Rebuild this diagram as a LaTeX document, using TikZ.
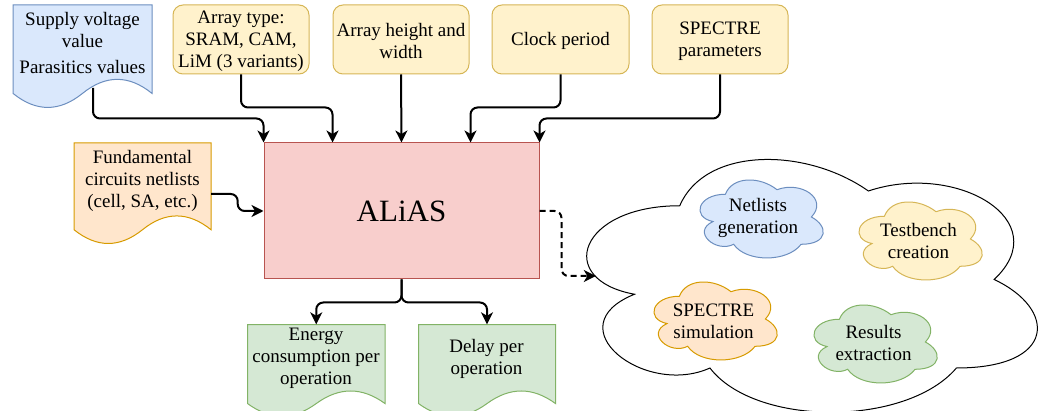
\documentclass[tikz,border=0pt]{standalone}
\usepackage{fontspec}
\setmainfont{Liberation Serif}
\usetikzlibrary{arrows.meta,calc}
\definecolor{bluef}{HTML}{DAE8FC}\definecolor{bluel}{HTML}{6C8EBF}
\definecolor{yelf}{HTML}{FFF2CC}\definecolor{yell}{HTML}{D6B656}
\definecolor{oraf}{HTML}{FFE6CC}\definecolor{oral}{HTML}{D79B00}
\definecolor{redf}{HTML}{F8CECC}\definecolor{redl}{HTML}{B85450}
\definecolor{grnf}{HTML}{D5E8D4}\definecolor{grnl}{HTML}{82B366}
\newcommand\docpath[5]{\begin{scope}[shift={(#1,#2)},x=#3pt,y=-#4pt]
\draw[#5] (0,0) -- (1,0) -- (1,0.85) .. controls (0.8333,0.67) and (0.6667,0.67) .. (0.5,0.85) .. controls (0.3333,1.03) and (0.1667,1.03) .. (0,0.85) -- cycle;\end{scope}}
\newcommand\cloudpath[5]{\begin{scope}[shift={(#1,#2)},x=#3pt,y=-#4pt]
\draw[#5] (0.25,0.25) .. controls (0.05,0.25) and (0,0.5) .. (0.16,0.55) .. controls (0,0.66) and (0.18,0.9) .. (0.31,0.8) .. controls (0.4,1) and (0.7,1) .. (0.8,0.8) .. controls (1,0.8) and (1,0.6) .. (0.875,0.5) .. controls (1,0.3) and (0.8,0.1) .. (0.625,0.2) .. controls (0.5,0.05) and (0.3,0.05) .. (0.25,0.25) -- cycle;\end{scope}}
\begin{document}
\begin{tikzpicture}[x=1pt,y=-1pt,
  every node/.style={font=\fontsize{19}{22}\selectfont, align=center, inner sep=0pt},
  ybox/.style={draw=yell, fill=yelf, rounded corners=10pt, minimum width=136pt, minimum height=69pt, line width=1pt},
  conn/.style={line width=2pt, rounded corners=7pt, -{Stealth[length=12pt,width=12pt,inset=3.5pt]}},
  shp/.style={line width=1pt}]
\useasboundingbox (0,0) rectangle (1043,411);
% documents
\docpath{13}{5}{139}{104}{shp, draw=bluel, fill=bluef}
\node[minimum width=139pt, minimum height=104pt] (supply) at (82.5,57) {};
\node (supplyt) at (82.5,43.5) {Supply voltage\\value\\[4pt]Parasitics values};
\docpath{74}{143}{137}{102}{shp, draw=oral, fill=oraf}
\node[minimum width=137pt, minimum height=102pt] (fund) at (142.5,194) {};
\node (fundt) at (142.5,181) {Fundamental\\circuits netlists\\(cell, SA, etc.)};
\docpath{247.5}{324.5}{137.5}{93}{shp, draw=grnl, fill=grnf}
\node[minimum width=137.5pt, minimum height=93pt] (energy) at (316.25,371) {};
\node (energyt) at (316,358) {Energy\\consumption per\\operation};
\docpath{418.5}{324.5}{137}{93}{shp, draw=grnl, fill=grnf}
\node[minimum width=137pt, minimum height=93pt] (delay) at (487,371) {};
\node (delayt) at (486.5,359) {Delay per\\operation};
% top boxes
\node[ybox] (atype) at (241,39.5) {\rule{0pt}{17pt}Array type:\\SRAM, CAM,\\LiM (3 variants)};
\node[ybox] (aheight) at (401,39.5) {\rule{0pt}{17pt}Array height and\\width};
\node[ybox, minimum width=137pt] (clock) at (560.5,39.5) {\rule{0pt}{17pt}Clock period};
\node[ybox] (spectre) at (720,39.5) {\rule{0pt}{17pt}SPECTRE\\parameters};
% main box
\node[draw=redl, fill=redf, line width=1pt, minimum width=275pt, minimum height=136pt, font=\fontsize{31}{36}\selectfont] (alias) at (401.5,211) {ALiAS};
% clouds
\cloudpath{554}{132}{503}{295}{shp, draw=black, fill=white}
\node[minimum width=503pt, minimum height=295pt] (bigcloud) at (805.5,279.5) {};
\cloudpath{691}{171.5}{137.6}{91}{shp, draw=bluel, fill=bluef}
\node (netl) at (758,218) {Netlists\\generation};
\cloudpath{850}{193.5}{137.6}{91}{shp, draw=yell, fill=yelf}
\node (testb) at (918.5,241) {Testbench\\creation};
\cloudpath{645}{273.5}{137.6}{91}{shp, draw=oral, fill=oraf}
\node (spsim) at (713.5,321) {SPECTRE\\simulation};
\cloudpath{805}{296.5}{137.6}{91}{shp, draw=grnl, fill=grnf}
\node (resx) at (873.5,343) {Results\\extraction};
% connector points
\coordinate (sx) at ([xshift=10.5pt,yshift=-31pt]supply.center);
\coordinate (t1) at ($(alias.north west)!0.25!(alias.north east)$);
\coordinate (t3) at ($(alias.north west)!0.75!(alias.north east)$);
\coordinate (cin) at ([xshift=42pt,yshift=3.5pt]bigcloud.west);
% connectors
\draw[conn] (sx) |- ([yshift=24pt]alias.north west) -- (alias.north west);
\draw[conn] (atype.south) |- ([yshift=35pt]t1) -- (t1);
\draw[conn] (aheight.south) -- (alias.north);
\draw[conn] (clock.south) |- ([yshift=35pt]t3) -- (t3);
\draw[conn] (spectre.south) |- ([yshift=24pt]alias.north east) -- (alias.north east);
\draw[conn] (fund.east) -- ++(26.5,0) |- (alias.west);
\draw[conn] (alias.south) -- ([yshift=-23pt]alias.south) -| (energy.north);
\draw[conn] (alias.south) -- ([yshift=-23pt]alias.south) -| (delay.north);
\draw[conn, dashed, dash pattern=on 6pt off 4pt] (alias.east) -- ++(22,0) |- (cin);
\end{tikzpicture}
\end{document}
